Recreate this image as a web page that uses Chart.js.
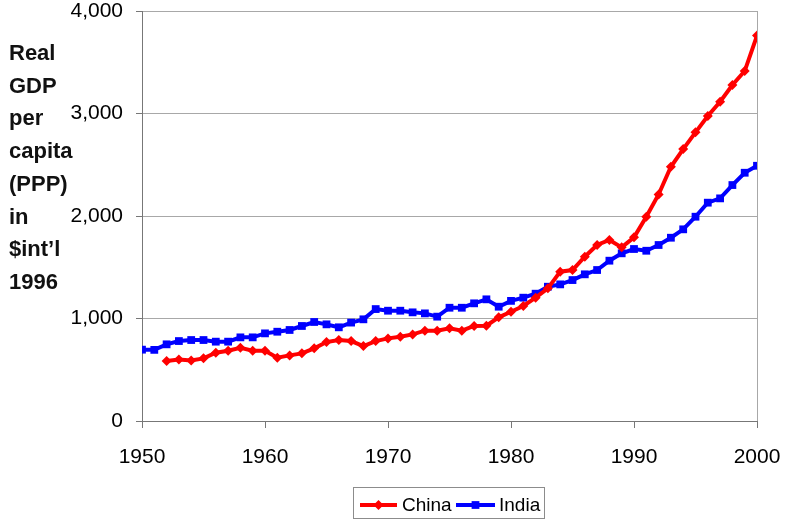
<!DOCTYPE html>
<html>
<head>
<meta charset="utf-8">
<script src="https://cdn.jsdelivr.net/npm/chart.js@4"></script>
<style>
  html, body { margin: 0; padding: 0; background: #fff; }
  canvas { display: block; }
</style>
</head>
<body>
<canvas id="gdpChart" width="789" height="527"></canvas>
<script>
// Real GDP per capita, China vs India, 1950-2000
const years = [];
for (let y = 1950; y <= 2000; y++) years.push(y);

const china = [null, null,
  585, 600, 590, 611, 666, 686, 715, 686,
  686, 617, 640, 660, 709, 770, 790, 780, 731, 780,
  806, 822, 845, 881, 881, 904, 881, 927, 930, 1011,
  1066, 1122, 1203, 1294, 1457, 1473, 1603, 1717, 1766, 1694,
  1792, 1993, 2210, 2480, 2653, 2816, 2975, 3115, 3278, 3414,
  3760];

const india = [
  696, 694, 748, 780, 790, 790, 774, 774, 816, 816,
  855, 871, 888, 927, 966, 943, 914, 960, 992, 1092,
  1076, 1076, 1060, 1050, 1018, 1105, 1105, 1148, 1187, 1115,
  1172, 1203, 1242, 1310, 1333, 1375, 1431, 1473, 1564, 1636,
  1678, 1661, 1717, 1788, 1870, 1993, 2130, 2172, 2302, 2422,
  2490];

const xTicks = [1950, 1960, 1970, 1980, 1990, 2000];
const yTicks = [0, 1000, 2000, 3000, 4000];
const yTitle = ['Real', 'GDP', 'per', 'capita', '(PPP)', 'in', '$int\u2019l', '1996'];

const FONT = '"Liberation Sans", Arial, Helvetica, sans-serif';
const RED = '#ff0000', BLUE = '#0000ff';

function pairs(vals){ return years.map((y, i) => ({x: y, y: vals[i]})); }

// left title, right frame line and boxed legend
const extras = {
  id: 'extras',
  afterDraw(chart){
    const c = chart.ctx, a = chart.chartArea;
    c.save();
    c.strokeStyle = '#a8a8a8'; c.lineWidth = 1;
    c.beginPath(); c.moveTo(a.right + 0.5, a.top); c.lineTo(a.right + 0.5, a.bottom); c.stroke();

    c.fillStyle = '#111';
    c.font = 'bold 22px ' + FONT;
    c.textBaseline = 'middle'; c.textAlign = 'left';
    yTitle.forEach((t, i) => c.fillText(t, 9, 54 + i * 32.7));

    // legend
    c.strokeStyle = '#8c8c8c';
    c.strokeRect(353.5, 487.5, 191, 31);
    const ly = 505;
    const items = [
      {label: 'China', color: RED, style: 'rectRot', r: 5, x0: 360, x1: 397, tx: 402},
      {label: 'India', color: BLUE, style: 'rect', r: 5.5, x0: 456, x1: 495, tx: 499}
    ];
    c.font = '19px ' + FONT;
    items.forEach(it => {
      c.strokeStyle = it.color; c.lineWidth = 4;
      c.beginPath(); c.moveTo(it.x0, ly); c.lineTo(it.x1, ly); c.stroke();
      c.fillStyle = it.color;
      Chart.helpers.drawPoint(c, {pointStyle: it.style, radius: it.r, borderWidth: 0}, (it.x0 + it.x1) / 2, ly);
      c.fillStyle = '#000';
      c.fillText(it.label, it.tx, ly + 1);
    });
    c.restore();
  }
};

new Chart(document.getElementById('gdpChart').getContext('2d'), {
  type: 'line',
  data: {
    datasets: [
      {
        label: 'China', data: pairs(china),
        borderColor: RED, backgroundColor: RED, borderWidth: 4,
        pointStyle: 'rectRot', pointRadius: 5, pointBorderWidth: 0,
        tension: 0, spanGaps: false
      },
      {
        label: 'India', data: pairs(india),
        borderColor: BLUE, backgroundColor: BLUE, borderWidth: 4,
        pointStyle: 'rect', pointRadius: 5.5, pointBorderWidth: 0,
        tension: 0
      }
    ]
  },
  options: {
    responsive: false,
    animation: false,
    devicePixelRatio: 1,
    layout: { padding: { top: 11, right: 32, bottom: 0, left: 0 } },
    plugins: { legend: { display: false }, tooltip: { enabled: false } },
    scales: {
      x: {
        type: 'linear', min: 1950, max: 2000,
        afterBuildTicks(s){ s.ticks = xTicks.map(v => ({value: v})); },
        afterFit(s){ s.height = 106; s.paddingLeft = 0; s.paddingRight = 0; },
        ticks: { color: '#000', font: { family: FONT, size: 21 }, padding: 17, maxRotation: 0,
                 callback: v => String(v) },
        grid: { drawOnChartArea: false, tickLength: 7, tickColor: '#777' },
        border: { color: '#777', width: 1 }
      },
      y: {
        min: 0, max: 4000,
        afterBuildTicks(s){ s.ticks = yTicks.map(v => ({value: v})); },
        afterFit(s){ s.width = 142; s.paddingTop = 0; s.paddingBottom = 0; },
        ticks: { color: '#000', font: { family: FONT, size: 21 }, padding: 13,
                 callback: v => v.toLocaleString('en-US') },
        grid: { color: '#a8a8a8', tickLength: 6, tickColor: '#777' },
        border: { color: '#777', width: 1 }
      }
    }
  },
  plugins: [extras]
});
</script>
</body>
</html>
